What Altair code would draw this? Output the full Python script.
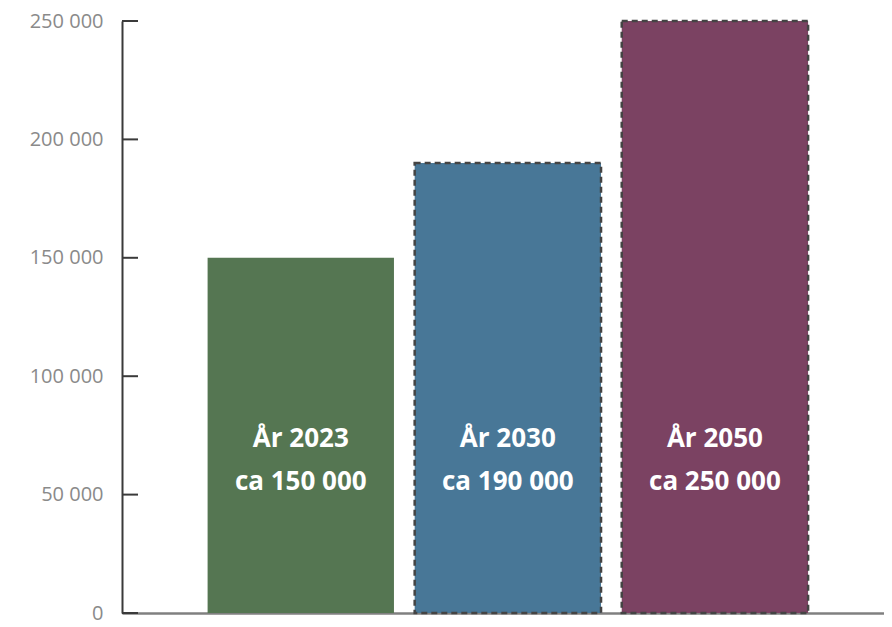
import altair as alt
import pandas as pd

categories = ["År 2023", "År 2030", "År 2050"]
values = [150000, 190000, 250000]
value_labels = ["ca 150 000", "ca 190 000", "ca 250 000"]
projected = [False, True, True]
colors = ["#557652", "#487797", "#7b4262"]
y_ticks = [0, 50000, 100000, 150000, 200000, 250000]

df = pd.DataFrame({
    "cat": categories,
    "value": values,
    "label": [f"{c}\n{v}" for c, v in zip(categories, value_labels)],
    "projected": projected,
})
ticks_df = pd.DataFrame({"t": y_ticks})

x_scale = alt.Scale(domain=categories, paddingInner=0.1, paddingOuter=0.39, align=0.53)
y_scale = alt.Scale(domain=[0, 250000], nice=False)

x_enc = alt.X("cat:N", scale=x_scale, sort=categories,
              axis=alt.Axis(title=None, labels=False, ticks=False, domainColor="#808080",
                            domainWidth=2.5))
y_enc = alt.Y("value:Q", scale=y_scale,
              axis=alt.Axis(title=None, values=y_ticks, ticks=False, grid=False,
                            domainColor="#3a3a3a", domainWidth=2,
                            labelExpr="datum.value == 0 ? '0' : floor(datum.value/1000) + ' 000'",
                            labelFont="Open Sans", labelFontSize=20, labelColor="#8a8a8a",
                            labelPadding=19, labelFontWeight="normal"))

bars = alt.Chart(df).mark_bar(strokeWidth=0).encode(
    x=x_enc,
    y=y_enc,
    color=alt.Color("cat:N", scale=alt.Scale(domain=categories, range=colors), legend=None),
)

dashed = alt.Chart(df).transform_filter("datum.projected").mark_bar(
    fillOpacity=0, stroke="#444444", strokeWidth=2.5, strokeDash=[6, 4]
).encode(x=alt.X("cat:N", scale=x_scale, sort=categories), y=alt.Y("value:Q", scale=y_scale))

text = alt.Chart(df).mark_text(
    font="Open Sans", fontWeight="bold", fontSize=26, color="white",
    lineBreak="\n", lineHeight=43, baseline="middle", align="center"
).encode(
    x=alt.X("cat:N", scale=x_scale, sort=categories),
    y=alt.datum(73500, scale=y_scale),
    text="label:N",
)

tick_marks = alt.Chart(ticks_df).mark_rule(color="#3a3a3a", strokeWidth=2).encode(
    x=alt.value(0), x2=alt.value(16),
    y=alt.Y("t:Q", scale=y_scale),
)

chart = alt.layer(bars, dashed, text, tick_marks).properties(
    width=762, height=592,
    autosize=alt.AutoSizeParams(type="none"),
    padding={"left": 114, "top": 13, "right": 0, "bottom": 14},
    background="white",
).configure_view(stroke=None)

chart.save("out.html", embed_options={"renderer": "svg", "actions": False})
